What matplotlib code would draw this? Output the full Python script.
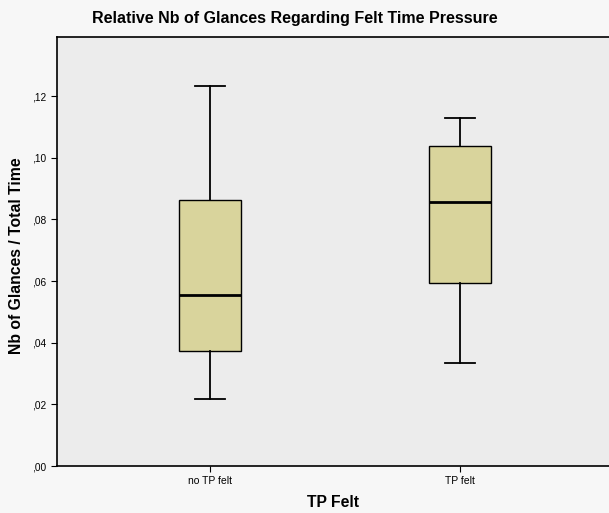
import matplotlib
matplotlib.use("Agg")
import matplotlib.pyplot as plt

categories = ["no TP felt", "TP felt"]
whislo = [0.0217, 0.0334]
q1 = [0.0373, 0.0594]
med = [0.0555, 0.0856]
q3 = [0.0863, 0.1038]
whishi = [0.1232, 0.1129]
yticks = [0.00, 0.02, 0.04, 0.06, 0.08, 0.10, 0.12]
ytick_labels = [",00", ",02", ",04", ",06", ",08", ",10", ",12"]

W, H = 609, 513
fig = plt.figure(figsize=(W / 100, H / 100), dpi=100)
fig.patch.set_facecolor("#f7f7f7")
ax = fig.add_axes([57 / W, 1 - 466 / H, (W - 57) / W, (466 - 37) / H])
ax.set_facecolor("#ececec")

stats = []
for i, c in enumerate(categories):
    stats.append(dict(label=c, whislo=whislo[i], q1=q1[i], med=med[i],
                      q3=q3[i], whishi=whishi[i], fliers=[]))

ax.bxp(stats, positions=[0, 1], widths=0.25, patch_artist=True,
       showfliers=False,
       boxprops=dict(facecolor="#d9d49c", edgecolor="black", linewidth=1),
       medianprops=dict(color="black", linewidth=2),
       whiskerprops=dict(color="black", linewidth=1.3),
       capprops=dict(color="black", linewidth=1.3), capwidths=0.12)

ax.set_xlim(-153 / 250, (W - 210) / 250)
ax.set_ylim(0, 0.1392)
ax.set_yticks(yticks)
ax.set_yticklabels(ytick_labels, fontsize=7.3, family="Liberation Sans")
ax.set_xticks([0, 1])
ax.set_xticklabels(categories, fontsize=7.5, family="Liberation Sans")
ax.tick_params(axis="both", direction="out", length=4, width=0.8, colors="black")
for s in ["top", "right"]:
    ax.spines[s].set_visible(False)
ax.spines["left"].set_linewidth(1.2)
ax.spines["bottom"].set_linewidth(1.2)
ax.plot([0, 1], [1, 1], transform=ax.transAxes, color="black", lw=1.2, clip_on=False)

ax.set_ylabel("Nb of Glances / Total Time", fontsize=11.3, fontweight="bold",
              family="Liberation Sans")
ax.yaxis.set_label_coords(-(57 - 24) / (W - 57), 0.49)
ax.set_xlabel("TP Felt", fontsize=11.3, fontweight="bold", family="Liberation Sans",
              labelpad=6)
fig.text(295 / W, 1 - 18 / H, "Relative Nb of Glances Regarding Felt Time Pressure",
         ha="center", va="center", fontsize=11.5, fontweight="bold",
         family="Liberation Sans")

fig.savefig("out.png", dpi=100, facecolor=fig.get_facecolor())
